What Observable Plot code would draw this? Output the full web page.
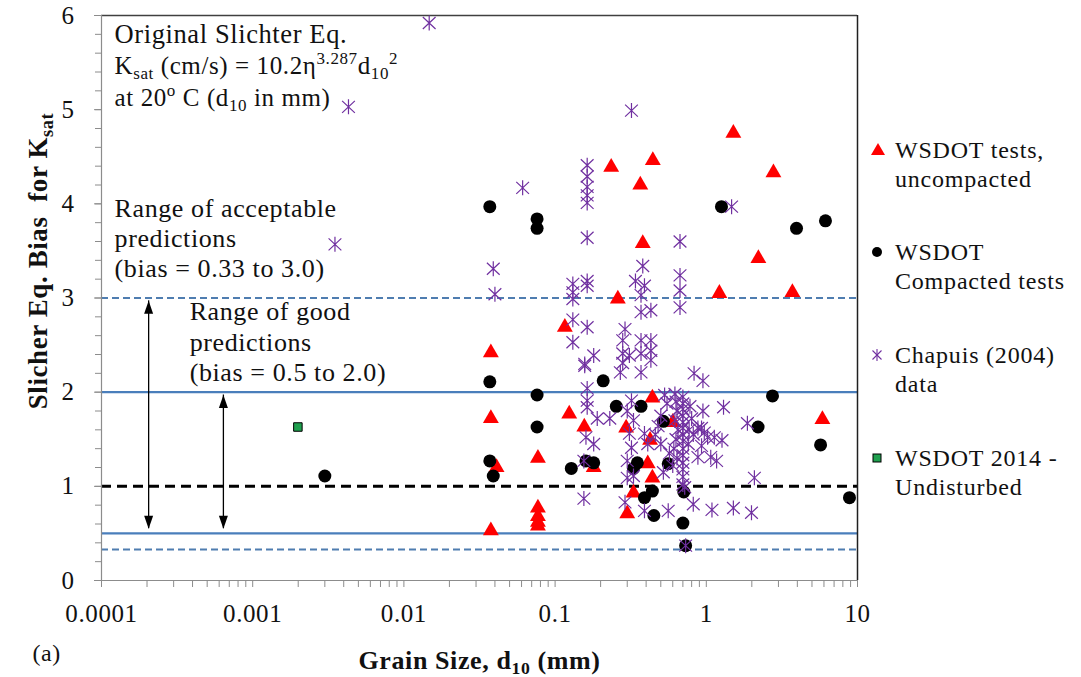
<!DOCTYPE html>
<html><head><meta charset="utf-8">
<script src="https://cdn.jsdelivr.net/npm/d3@7"></script>
<script src="https://cdn.jsdelivr.net/npm/@observablehq/plot@0.6"></script>
<style>
html,body{margin:0;padding:0;background:#fff;overflow:hidden;}
#wrap{position:relative;width:1081px;height:677px;overflow:hidden;}
#wrap svg text{letter-spacing:0.6px;}
.lg{position:absolute;left:868px;font-family:"Liberation Serif",serif;font-size:24px;line-height:29px;color:#111;letter-spacing:0.8px;white-space:nowrap;}
.lg svg{position:absolute;left:0;top:4px;}
.lg div{padding-left:27px;}
</style></head>
<body><div id="wrap"></div>
<script>
// ---- data ----
const uncompactedX = [0.0376,0.0376,0.041,0.0376, 0.077,0.077,0.077,0.077,0.077, 0.116,0.124,0.156,0.18, 0.295,0.425,0.44,0.41,0.44,0.33,0.30,0.60, 0.235,0.443,0.366,0.38,0.26, 1.51,2.78,2.21,1.22,3.71,5.86];
const uncompactedY = [2.42,1.72,1.20,0.53, 1.30,0.77,0.68,0.62,0.58, 2.69,1.77,1.63,1.20, 1.62,1.49,1.94,1.24,1.09,0.93,0.71,1.68, 4.39,4.46,4.20,3.58,2.99, 4.75,4.33,3.42,3.05,3.06,1.71];

const compactedX = [0.037,0.076,0.076,1.26,3.95,6.14, 0.037,0.076,0.076,0.037,0.039, 0.128,0.208,0.16,0.18,0.254,0.37,0.52,0.35,0.33, 0.44,0.39,0.45,0.56, 0.71,0.70,0.73, 2.74,2.2,5.7,8.85, 0.0030];
const compactedY = [3.97,3.84,3.74,3.97,3.74,3.82, 2.11,1.97,1.63,1.27,1.11, 1.19,2.12,1.27,1.25,1.85,1.85,1.69,1.25,1.19, 0.95,0.88,0.69,1.24, 0.94,0.61,0.37, 1.96,1.63,1.44,0.88, 1.11];

const chapuisX = [0.0147,0.0043,0.0035,0.061,0.32,0.039,0.040,1.47,
  0.163,0.163,0.163,0.163,0.163,0.163,0.163,0.163,
  0.131,0.131,0.131,0.131,0.131,0.163,0.29,
  0.38,0.34,0.39,0.37,0.37,0.43,
  0.67,0.67,0.67,0.67,
  0.157,0.18,0.163,0.163,0.163,0.157,
  0.28,0.28,0.28,0.27,0.31,
  0.37,0.43,0.37,0.43,0.43,0.37,
  0.19,0.23,0.16,0.18,0.155,0.155,
  0.32,0.30,0.33,0.31,0.32,0.30,0.30,0.33,0.29,
  0.39,0.41,0.39,
  0.70,0.70,0.70,0.70,0.70,0.70,0.70,0.70,0.70,0.70,0.70,0.70,0.70,0.70,0.72,
  0.62,0.63,0.64,0.62,0.65,0.63,0.61,0.64,0.60,
  0.53,0.55,0.50,0.48,0.46,0.50,0.57,0.52,
  0.78,0.80,0.77,0.82,0.76,
  0.83,0.95,0.95,1.30,0.88,0.93,0.97,1.02,1.13,1.27,0.93,1.87,1.07,1.17,0.88,2.08,
  0.56,0.82,1.09,1.51,1.99,0.73];
const chapuisY = [5.92,5.03,3.57,4.17,4.99,3.31,3.04,3.97,
  4.41,4.29,4.18,4.09,4.01,3.64,3.18,3.13,
  3.15,3.06,2.99,2.77,2.53,2.69,2.67,
  3.34,3.18,3.13,3.03,2.85,2.87,
  3.60,3.24,3.08,2.90,
  2.30,2.39,2.04,1.91,1.84,2.28,
  2.55,2.41,2.31,2.21,2.39,
  2.55,2.55,2.41,2.44,2.34,2.21,
  1.72,1.72,1.52,1.45,1.27,0.87,
  1.91,1.80,1.70,1.56,1.41,1.27,1.09,1.11,0.83,
  1.56,1.45,0.74,
  1.95,1.88,1.82,1.75,1.68,1.62,1.55,1.48,1.40,1.33,1.25,1.18,1.10,1.02,0.99,
  1.98,1.90,1.80,1.70,1.60,1.50,1.40,1.30,1.22,
  1.97,1.88,1.75,1.64,1.55,1.45,1.35,1.15,
  1.85,1.72,1.60,1.55,1.45,
  2.20,2.12,1.80,1.84,1.62,1.62,1.57,1.52,1.52,1.49,1.43,1.67,1.31,1.27,1.31,1.09,
  0.74,0.81,0.75,0.77,0.72,0.37];

const undisturbedX = [0.00199];
const undisturbedY = [1.63];

const goodRange = [0.5, 2.0];          // solid blue lines
const acceptableRange = [0.33, 3.0];   // dashed blue lines
const unityBias = [1];                 // black dashed line

const arrowX = [0.000205, 0.00064];
const arrowTop = [2.97, 1.97];
const arrowBottom = [0.55, 0.55];

const xTickValues = [0.0001, 0.001, 0.01, 0.1, 1, 10];
const xTickLabels = ["0.0001", "0.001", "0.01", "0.1", "1", "10"];
const yTickValues = [0, 1, 2, 3, 4, 5, 6];
const yTickLabels = ["0", "1", "2", "3", "4", "5", "6"];

const noteLines = ["Original Slichter Eq.", "K_{sat} (cm/s) = 10.2η^{3.287}d_{10}^{2}", "at 20^{o} C (d_{10} in mm)"];
const noteX = 0.000122;
const noteY = [5.71, 5.38, 5.04];
const noteSizes = [26.5, 25, 25];
const acceptLines = ["Range of acceptable", "predictions", "(bias = 0.33 to 3.0)"];
const acceptX = 0.000122;
const acceptY = [3.864, 3.546, 3.227];
const goodLines = ["Range of good", "predictions", "(bias = 0.5 to 2.0)"];
const goodX = 0.000383;
const goodY = [2.771, 2.442, 2.123];

const xLabel = "Grain Size, d_{10} (mm)";
const yLabel = "Slicher Eq. Bias  for K_{sat}";
const panelLabel = "(a)";

const legendItems = [
  {sym: "triangle", lines: ["WSDOT tests,", "uncompacted"], y: 150},
  {sym: "circle", lines: ["WSDOT", "Compacted tests"], y: 252},
  {sym: "asterisk", lines: ["Chapuis (2004)", "data"], y: 355},
  {sym: "square", lines: ["WSDOT 2014 -", "Undisturbed"], y: 458}
];

// ---- build ----
const pts = (X, Y) => X.map((x, i) => ({x, y: Y[i]}));
const FONT = "Liberation Serif";
const BLUE = "#4A7EBB";

const starSym = {draw(ctx, size) {
  const r = Math.sqrt(size / Math.PI), a = r * 0.85, b = r * 0.8;
  ctx.moveTo(0, -r); ctx.lineTo(0, r);
  ctx.moveTo(-a, -b); ctx.lineTo(a, b);
  ctx.moveTo(-a, b); ctx.lineTo(a, -b);
}};
const headUp = {draw(ctx) { ctx.moveTo(0, 0); ctx.lineTo(4.5, 13); ctx.lineTo(-4.5, 13); ctx.closePath(); }};
const headDown = {draw(ctx) { ctx.moveTo(0, 0); ctx.lineTo(4.5, -13); ctx.lineTo(-4.5, -13); ctx.closePath(); }};

const minorX = [];
for (let e = -4; e < 1; e++) for (let k = 2; k <= 9; k++) minorX.push(k * Math.pow(10, e));
const minorY = d3.range(0, 6.001, 0.2).map(v => +v.toFixed(1));

const arrows = arrowX.map((x, i) => ({x, top: arrowTop[i], bottom: arrowBottom[i]}));
const txtLine = (line, X, Y, size) => Plot.text([line], {x: () => X, y: () => Y, text: d => d,
  textAnchor: "start", lineAnchor: "bottom", fontSize: size, fontFamily: FONT, fill: "#111"});

const chart = Plot.plot({
  width: 1081, height: 677,
  marginLeft: 101, marginRight: 224, marginTop: 15, marginBottom: 97,
  x: {type: "log", domain: [1e-4, 10]},
  y: {domain: [0, 6]},
  style: {fontFamily: FONT, background: "white"},
  marks: [
    Plot.ruleY(acceptableRange, {y: d => d, stroke: "#4F7DB0", strokeWidth: 2, strokeDasharray: "7,4"}),
    Plot.ruleY(goodRange, {y: d => d, stroke: BLUE, strokeWidth: 2.2}),
    Plot.ruleY(unityBias, {y: d => d, stroke: "black", strokeWidth: 3, strokeDasharray: "10,6"}),
    Plot.ruleX(arrows, {x: "x", y1: "top", y2: "bottom", stroke: "black", strokeWidth: 1.3}),
    Plot.dot(arrows, {x: "x", y: "top", symbol: headUp, fill: "black", stroke: "none"}),
    Plot.dot(arrows, {x: "x", y: "bottom", symbol: headDown, fill: "black", stroke: "none"}),
    // frame
    Plot.ruleY([6], {stroke: "#404040", strokeWidth: 1.5}),
    Plot.ruleX([10], {stroke: "#202020", strokeWidth: 1.5}),
    Plot.ruleX([1e-4], {stroke: "#8c8c8c", strokeWidth: 1.2}),
    Plot.ruleY([0], {stroke: "#8c8c8c", strokeWidth: 1.2}),
    // axes
    Plot.axisX({ticks: xTickValues, tickFormat: d => xTickLabels[xTickValues.indexOf(d)], tickSize: 7, tickPadding: 17,
      fontSize: 25, stroke: "#8c8c8c", fill: "#111", label: null}),
    Plot.axisX({ticks: minorX, tickFormat: () => "", tickSize: 7, stroke: "#8c8c8c", label: null}),
    Plot.axisY({ticks: yTickValues, tickFormat: d => yTickLabels[yTickValues.indexOf(d)], tickSize: 7, tickPadding: 20,
      fontSize: 25, stroke: "#8c8c8c", fill: "#111", label: null}),
    Plot.axisY({ticks: minorY, tickFormat: () => "", tickSize: 6, stroke: "#8c8c8c", label: null}),
    // data
    Plot.dot(pts(uncompactedX, uncompactedY), {x: "x", y: "y", symbol: "triangle", r: 5.9, fill: "#FF0000", stroke: "none"}),
    Plot.dot(pts(compactedX, compactedY), {x: "x", y: "y", symbol: "circle", r: 6.5, fill: "#000", stroke: "none"}),
    Plot.dot(pts(chapuisX, chapuisY), {x: "x", y: "y", symbol: starSym, r: 7.5, fill: "none", stroke: "#7030A0", strokeWidth: 1.2}),
    Plot.dot(pts(undisturbedX, undisturbedY), {x: "x", y: "y", symbol: "square", r: 4.8, fill: "#1FA04E", stroke: "#000", strokeWidth: 1}),
    // annotations
    ...noteLines.map((l, i) => txtLine(l, noteX, noteY[i], noteSizes[i])),
    ...acceptLines.map((l, i) => txtLine(l, acceptX, acceptY[i], 26)),
    ...goodLines.map((l, i) => txtLine(l, goodX, goodY[i], 26)),
    Plot.text([xLabel], {frameAnchor: "bottom", dy: 88, text: d => d, textAnchor: "middle", lineAnchor: "bottom", fontSize: 26, fontWeight: "bold", fontFamily: FONT, fill: "#111"}),
    Plot.text([panelLabel], {frameAnchor: "bottom-left", dx: -69, dy: 80, text: d => d, textAnchor: "start", lineAnchor: "bottom", fontSize: 24, fontFamily: FONT, fill: "#111"}),
    Plot.text([yLabel], {frameAnchor: "left", dx: -63, dy: -37, rotate: -90, text: d => d, textAnchor: "middle", lineAnchor: "middle", fontSize: 27, fontWeight: "bold", fontFamily: FONT, fill: "#111"})
  ]
});

const wrap = document.getElementById("wrap");
wrap.appendChild(chart);

// sub/superscript markup -> tspans
const NS = "http://www.w3.org/2000/svg";
chart.querySelectorAll("text").forEach(el => {
  const s = el.textContent;
  if (!/[_^]\{/.test(s) || el.children.length) return;
  const fs = parseFloat(getComputedStyle(el).fontSize) || 24;
  el.textContent = "";
  let offset = 0, last = 0, m;
  const re = /([_^])\{([^}]*)\}/g;
  const add = (str, target, small) => {
    const t = document.createElementNS(NS, "tspan");
    if (target !== offset) t.setAttribute("dy", target - offset);
    offset = target;
    if (small) t.setAttribute("font-size", (fs * 0.68).toFixed(1));
    t.textContent = str;
    el.appendChild(t);
  };
  while ((m = re.exec(s))) {
    if (m.index > last) add(s.slice(last, m.index), 0, false);
    add(m[2], m[1] === "_" ? 0.22 * fs : -0.38 * fs, true);
    last = re.lastIndex;
  }
  if (last < s.length) add(s.slice(last), 0, false);
});

// legend
const symSvg = {
  triangle: '<polygon points="10,3 17,15 3,15" fill="#FF0000"/>',
  circle: '<circle cx="9" cy="10" r="5" fill="#000"/>',
  asterisk: '<g stroke="#7030A0" stroke-width="1.1" fill="none"><line x1="9" y1="4" x2="9" y2="16"/><line x1="4.5" y1="5.5" x2="13.5" y2="14.5"/><line x1="4.5" y1="14.5" x2="13.5" y2="5.5"/></g>',
  square: '<rect x="5" y="6" width="8" height="8" fill="#1FA04E" stroke="#000" stroke-width="1"/>'
};
legendItems.forEach(it => {
  const d = document.createElement("div");
  d.className = "lg";
  d.style.top = (it.y - 14.5) + "px";
  d.innerHTML = `<svg width="20" height="20">${symSvg[it.sym]}</svg>` + it.lines.map(l => `<div>${l}</div>`).join("");
  wrap.appendChild(d);
});
</script>
</body></html>
